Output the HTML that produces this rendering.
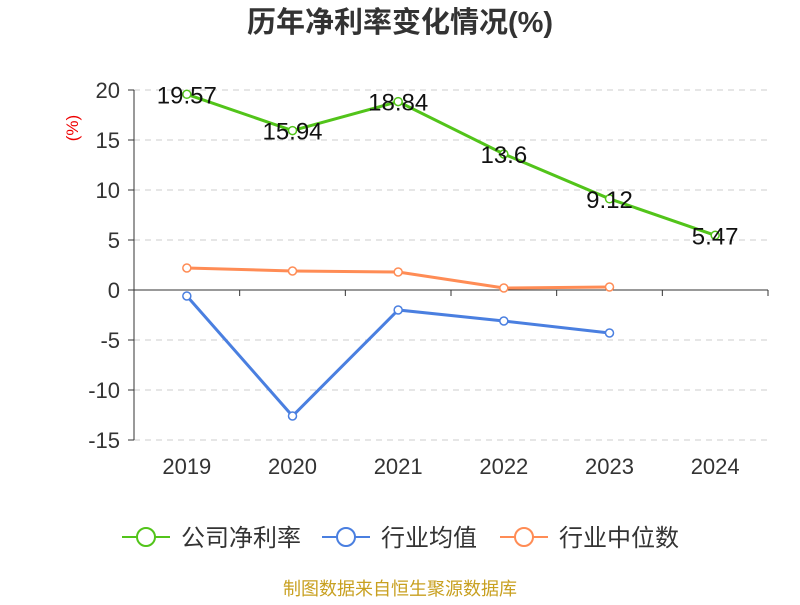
<!DOCTYPE html>
<html><head><meta charset="utf-8"><style>
body{margin:0;background:#fff;}
svg{font-family:"Liberation Sans","Noto Sans CJK SC",sans-serif;}
</style></head><body>
<svg id="chart" width="800" height="600">
<text x="400" y="32" text-anchor="middle" font-size="29" font-weight="bold" fill="#333">历年净利率变化情况(%)</text>
<text x="78" y="128" font-size="17" fill="#e00" transform="rotate(-90 78 128)" text-anchor="middle">(%)</text>
<g id="grid"></g><g id="axes"></g><g id="series"></g>
<g>
<g><line x1="122" y1="537" x2="170" y2="537" stroke="#52c41a" stroke-width="2"/><circle cx="146" cy="537" r="9" fill="#fff" stroke="#52c41a" stroke-width="2"/><text x="181" y="546" font-size="24" fill="#333">公司净利率</text></g>
<g><line x1="322" y1="537" x2="370" y2="537" stroke="#4a7fe0" stroke-width="2"/><circle cx="346" cy="537" r="9" fill="#fff" stroke="#4a7fe0" stroke-width="2"/><text x="381" y="546" font-size="24" fill="#333">行业均值</text></g>
<g><line x1="500" y1="537" x2="548" y2="537" stroke="#ff8c55" stroke-width="2"/><circle cx="524" cy="537" r="9" fill="#fff" stroke="#ff8c55" stroke-width="2"/><text x="559" y="546" font-size="24" fill="#333">行业中位数</text></g>
</g>
<text x="400" y="595" text-anchor="middle" font-size="18" fill="#c8a020">制图数据来自恒生聚源数据库</text>
</svg>
<script>
const categories=["2019","2020","2021","2022","2023","2024"];
const companyValues=[19.57,15.94,18.84,13.6,9.12,5.47];
const industryAvg=[-0.6,-12.6,-2.0,-3.1,-4.3];
const industryMedian=[2.2,1.9,1.8,0.2,0.3];
const yTicks=[20,15,10,5,0,-5,-10,-15];
const NS="http://www.w3.org/2000/svg";
const x0=134,x1=768,y=v=>290-v*10;
const band=(x1-x0)/categories.length;
const x=i=>x0+band*(i+0.5);
function mk(t,a,p){const e=document.createElementNS(NS,t);for(const k in a)e.setAttribute(k,a[k]);p.appendChild(e);return e;}
const grid=document.getElementById('grid'),axes=document.getElementById('axes'),ser=document.getElementById('series');
yTicks.forEach(t=>{
 if(t!==0){const g=mk('line',{x1:x0,x2:x1,y1:y(t),y2:y(t),stroke:'#ccc','stroke-dasharray':'6,5'},grid);
 
 }
 const l=mk('text',{x:x0-14,y:y(t)+8,'text-anchor':'end','font-size':22,fill:'#333'},axes);l.textContent=t;
 
 
 mk('line',{x1:x0-6,x2:x0,y1:y(t),y2:y(t),stroke:'#333'},axes);
});
const ya=mk('line',{x1:x0,x2:x0,y1:y(20),y2:y(-15),stroke:'#333'},axes);


const xa=mk('line',{x1:x0,x2:x1,y1:y(0),y2:y(0),stroke:'#333'},axes);


for(let i=0;i<=categories.length;i++)mk('line',{x1:x0+band*i,x2:x0+band*i,y1:y(0),y2:y(0)+6,stroke:'#333'},axes);
categories.forEach((c,i)=>{const t=mk('text',{x:x(i),y:474,'text-anchor':'middle','font-size':22,fill:'#333'},axes);t.textContent=c;
 
 });
function series(vals,color,name,labels){
 const p=mk('polyline',{points:vals.map((v,i)=>x(i)+','+y(v)).join(' '),fill:'none',stroke:color,'stroke-width':3},ser);
 
 
 vals.forEach((v,i)=>{const c=mk('circle',{cx:x(i),cy:y(v),r:4,fill:'#fff',stroke:color,'stroke-width':1.5},ser);
  
  
  if(labels){const t=mk('text',{x:x(i),y:y(v)+9,'text-anchor':'middle','font-size':24,fill:'#111'},ser);t.textContent=v;
   
   }
 });
}
series(industryMedian,'#ff8c55','industry-median',false);
series(industryAvg,'#4a7fe0','industry-avg',false);
series(companyValues,'#52c41a','company-net-margin',true);
</script>
</body></html>
